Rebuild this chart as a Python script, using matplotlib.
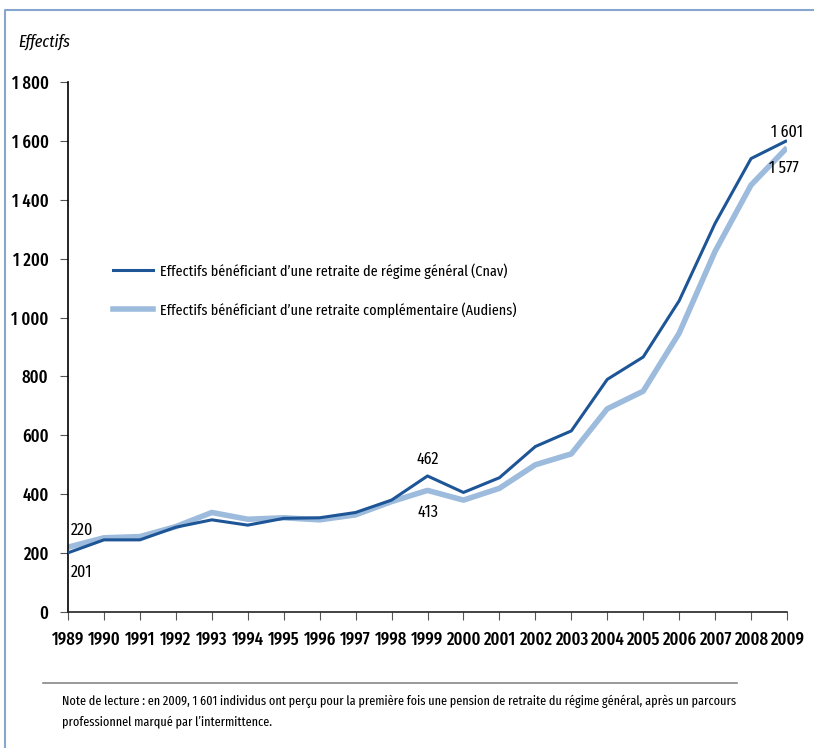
import matplotlib
matplotlib.use("Agg")
import matplotlib.pyplot as plt
from matplotlib.lines import Line2D
from matplotlib.ticker import FuncFormatter

years = list(range(1989, 2010))
cnav = [201, 245, 245, 288, 313, 295, 318, 320, 338, 380, 462, 406, 456, 562, 615, 790, 866, 1057, 1320, 1540, 1601]
audiens = [220, 252, 256, 290, 338, 315, 320, 313, 330, 375, 413, 380, 420, 500, 537, 690, 750, 947, 1225, 1450, 1577]
label_cnav = "Effectifs bénéficiant d\u2019une retraite de régime général (Cnav)"
label_aud = "Effectifs bénéficiant d\u2019une retraite complémentaire (Audiens)"
yticks = [0, 200, 400, 600, 800, 1000, 1200, 1400, 1600, 1800]
note = ("Note de lecture : en 2009, 1 601 individus ont perçu pour la première fois une pension de retraite du régime général, après un parcours\n"
        "professionnel marqué par l\u2019intermittence.")

FONT = ["Fira Sans Extra Condensed", "Fira Sans Condensed", "PT Sans Narrow", "DejaVu Sans"]
plt.rcParams['font.family'] = FONT

dark = "#1d5597"
light = "#9dbbdc"
frame = "#86a6cf"

fig = plt.figure(figsize=(8.14, 7.48), dpi=100)
ax = fig.add_axes([68/814, 1-612/748, (787-68)/814, (612-82)/748])

ax.plot(years, audiens, color=light, lw=4.0, solid_capstyle='butt', zorder=2)
ax.plot(years, cnav, color=dark, lw=2.2, solid_capstyle='butt', zorder=3)

ax.set_xlim(1989, 2009)
ax.set_ylim(0, 1800)
ax.set_xticks(years)
ax.set_yticks(yticks)
ax.yaxis.set_major_formatter(FuncFormatter(lambda v, p: f"{int(v):,}".replace(",", "\u2009")))
ax.tick_params(axis='x', length=6, width=0.8, labelsize=13, pad=8)
ax.tick_params(axis='y', length=6, width=0.8, labelsize=13, pad=8)
for lab in ax.get_xticklabels() + ax.get_yticklabels():
    lab.set_fontweight('medium')
for s in ['top', 'right']:
    ax.spines[s].set_visible(False)
ax.spines['left'].set_linewidth(1.2)
ax.spines['bottom'].set_linewidth(1.2)
ax.spines['bottom'].set_color('#222222')
ax.tick_params(axis='both', colors='#555555', labelcolor='black')

fig.text(18/814, 1-42/748, "Effectifs", fontsize=12.5, style='italic', va='center', ha='left')

def ann(x, y, t, dx, dy, ha):
    ax.annotate(t, (x, y), xytext=(dx, dy), textcoords='offset points', ha=ha, va='center', fontsize=12.5)

ann(1989, audiens[0], "220", 2, 12, 'left')
ann(1989, cnav[0], "201", 2, -14, 'left')
ann(1999, cnav[10], "462", 0, 12, 'center')
ann(1999, audiens[10], "413", 0, -16, 'center')
ann(2009, cnav[-1], "1\u2009601", 0, 6, 'center')
ann(2009, audiens[-1], "1\u2009577", -2, -15, 'center')

handles = [Line2D([], [], color=dark, lw=2.2), Line2D([], [], color=light, lw=4.0)]
leg = ax.legend(handles, [label_cnav, label_aud], loc='upper left',
                bbox_to_anchor=((113-68)/719, (612-263)/530), frameon=False,
                fontsize=11.1, handlelength=2.6, labelspacing=1.52, handletextpad=0.47,
                borderaxespad=0, borderpad=0)

# note separator line and text
fig.add_artist(Line2D([43/814, 737/814], [1-683/748, 1-683/748], color='#888888', lw=1.2))
fig.text(62/814, 1-711/748, note, fontsize=9.55, va='center', ha='left', linespacing=1.65)

# frame (left and top)
fig.add_artist(Line2D([5/814, 5/814, 1.0], [0.0, 1-10/748, 1-10/748], color=frame, lw=1.5))

fig.savefig("out.png", dpi=100)
